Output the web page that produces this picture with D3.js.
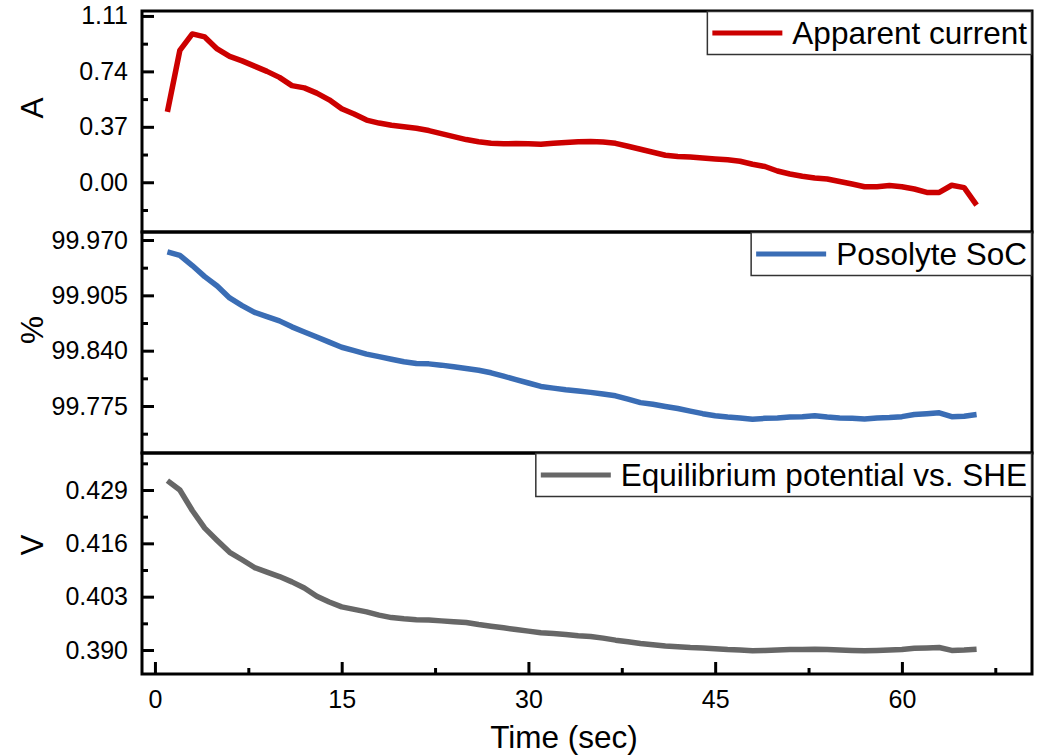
<!DOCTYPE html>
<html>
<head>
<meta charset="utf-8">
<script src="https://cdn.jsdelivr.net/npm/d3@7"></script>
<style>
  body { margin: 0; background: #fff; }
  text { font-family: Arial, "Liberation Sans", sans-serif; fill: #000; }
</style>
</head>
<body>
<script>
/* ------------------------------- Data ------------------------------- */
const timeSec = [1,2,3,4,5,6,7,8,9,10,11,12,13,14,15,16,17,18,19,20,21,22,
  23,24,25,26,27,28,29,30,31,32,33,34,35,36,37,38,39,40,41,42,43,44,45,46,
  47,48,49,50,51,52,53,54,55,56,57,58,59,60,61,62,63,64,65,66];

const apparentCurrent = [0.47,0.88,0.99,0.97,0.89,0.84,0.81,0.775,0.74,0.70,
  0.645,0.63,0.595,0.55,0.49,0.455,0.415,0.395,0.38,0.37,0.36,0.345,0.325,
  0.305,0.285,0.27,0.26,0.257,0.258,0.257,0.253,0.26,0.266,0.27,0.272,0.268,
  0.26,0.24,0.22,0.20,0.18,0.172,0.168,0.162,0.156,0.15,0.14,0.12,0.105,
  0.075,0.055,0.04,0.028,0.022,0.005,-0.012,-0.03,-0.03,-0.022,-0.03,-0.045,
  -0.068,-0.068,-0.02,-0.036,-0.152];

const posolyteSoc = [99.956,99.952,99.940,99.927,99.916,99.902,99.893,99.885,
  99.880,99.875,99.868,99.862,99.856,99.850,99.844,99.840,99.836,99.833,
  99.830,99.827,99.825,99.8245,99.823,99.821,99.819,99.817,99.814,99.810,
  99.806,99.802,99.798,99.796,99.794,99.7925,99.791,99.789,99.787,99.783,
  99.779,99.777,99.7745,99.772,99.769,99.766,99.7635,99.762,99.761,99.7595,
  99.7605,99.761,99.762,99.7625,99.7635,99.762,99.761,99.7605,99.7597,99.761,
  99.7615,99.7625,99.765,99.766,99.767,99.7625,99.763,99.765];

const eqPotential = [0.4313,0.4290,0.4240,0.4197,0.4167,0.4138,0.4120,0.4101,
  0.4090,0.4079,0.4066,0.4051,0.4031,0.4017,0.4005,0.3999,0.3993,0.3985,
  0.3979,0.3976,0.3974,0.3973,0.3971,0.3969,0.3967,0.3962,0.3958,0.3954,
  0.3950,0.3946,0.3942,0.3940,0.3938,0.3935,0.3933,0.3929,0.3924,0.3920,
  0.3916,0.3913,0.3910,0.3908,0.3906,0.3905,0.3903,0.3901,0.3900,0.3898,
  0.3899,0.3900,0.3901,0.3901,0.3902,0.3901,0.3900,0.3899,0.3898,0.3899,
  0.3900,0.3901,0.3904,0.3905,0.3906,0.3899,0.3900,0.3902];

const xMajorTicks = [0, 15, 30, 45, 60];
const xMinorTicks = [7.5, 22.5, 37.5, 52.5, 67.5];

/* ------------------------------ Layout ------------------------------ */
const vWidth = 1046, vHeight = 755;
const plotLeft = 142, plotRight = 1032, plotTop = 11, plotBottom = 674;
const panelH = (plotBottom - plotTop) / 3;
const tickFont = '25px', bigFont = '31.5px';

const panels = [
  { values: apparentCurrent, label: 'A', name: 'Apparent current', color: '#cc0000',
    domain: [-0.332, 1.143], major: [0, 0.37, 0.74, 1.11], minor: [-0.185, 0.185, 0.555, 0.925],
    fmt: d3.format('.2f'), labelY: 97 },
  { values: posolyteSoc, label: '%', name: 'Posolyte SoC', color: '#3a6db5',
    domain: [99.7198, 99.9794], major: [99.775, 99.840, 99.905, 99.970],
    minor: [99.7425, 99.8075, 99.8725, 99.9375], fmt: d3.format('.3f'), labelY: 98 },
  { values: eqPotential, label: 'V', name: 'Equilibrium potential vs. SHE', color: '#676767',
    domain: [0.38415, 0.43802], major: [0.390, 0.403, 0.416, 0.429],
    minor: [0.3965, 0.4095, 0.4225, 0.4355], fmt: d3.format('.3f'), labelY: 92 }
];

const svg = d3.select('body').append('svg').attr('width', vWidth).attr('height', vHeight);
const x = d3.scaleLinear().domain([-1.04, 70.45]).range([plotLeft, plotRight]);

panels.forEach((p, i) => {
  const y0 = plotTop + i * panelH, y1 = y0 + panelH;
  const y = d3.scaleLinear().domain(p.domain).range([y1, y0]);
  const g = svg.append('g');

  // line
  const line = d3.line().x((d, k) => x(timeSec[k])).y(d => y(d));
  g.append('path').datum(p.values)
    .attr('d', line)
    .attr('fill', 'none')
    .attr('stroke', p.color)
    .attr('stroke-width', 5.5)
    .attr('stroke-linejoin', 'round');

  // y axis (ticks inward)
  const yAxis = g.append('g').attr('transform', `translate(${plotLeft},0)`)
    .call(d3.axisLeft(y).tickValues(p.major).tickSize(-12).tickPadding(14).tickFormat(p.fmt));
  yAxis.select('.domain').remove();
  yAxis.selectAll('line').attr('stroke', '#000').attr('stroke-width', 3);
  yAxis.selectAll('text').style('font-size', tickFont).attr('fill', '#000');

  const yMinor = g.append('g').attr('transform', `translate(${plotLeft},0)`)
    .call(d3.axisLeft(y).tickValues(p.minor).tickSize(-6).tickFormat(''));
  yMinor.select('.domain').remove();
  yMinor.selectAll('line').attr('stroke', '#000').attr('stroke-width', 3);

  // y label
  g.append('text')
    .attr('transform', `translate(43,${y0 + p.labelY}) rotate(-90)`)
    .attr('text-anchor', 'middle')
    .style('font-size', bigFont)
    .text(p.label);

  // frame
  g.append('rect')
    .attr('x', plotLeft).attr('y', y0)
    .attr('width', plotRight - plotLeft).attr('height', panelH)
    .attr('fill', 'none').attr('stroke', '#000').attr('stroke-width', 3);

  // legend
  const lg = g.append('g');
  const box = lg.append('rect').attr('fill', '#fff').attr('stroke', '#333').attr('stroke-width', 1.5);
  const lt = lg.append('text').style('font-size', bigFont).text(p.name);
  const tw = lt.node().getComputedTextLength();
  const bw = tw + 90, bh = 43;
  const bx = plotRight - bw;
  box.attr('x', bx).attr('y', y0 + 0.5).attr('width', bw - 0.5).attr('height', bh);
  lg.append('line')
    .attr('x1', bx + 5).attr('x2', bx + 75)
    .attr('y1', y0 + 22).attr('y2', y0 + 22)
    .attr('stroke', p.color).attr('stroke-width', 5);
  lt.attr('x', bx + 85).attr('y', y0 + 33);
});

/* ------------------------------ X axis ------------------------------ */
const xAxis = svg.append('g').attr('transform', `translate(0,${plotBottom})`)
  .call(d3.axisBottom(x).tickValues(xMajorTicks).tickSize(-12).tickPadding(16).tickFormat(d3.format('d')));
xAxis.select('.domain').remove();
xAxis.selectAll('line').attr('stroke', '#000').attr('stroke-width', 3);
xAxis.selectAll('text').style('font-size', tickFont).attr('fill', '#000');

const xMinor = svg.append('g').attr('transform', `translate(0,${plotBottom})`)
  .call(d3.axisBottom(x).tickValues(xMinorTicks).tickSize(-6).tickFormat(''));
xMinor.select('.domain').remove();
xMinor.selectAll('line').attr('stroke', '#000').attr('stroke-width', 3);

svg.append('text')
  .attr('x', 564).attr('y', 748)
  .attr('text-anchor', 'middle')
  .style('font-size', bigFont)
  .text('Time (sec)');
</script>
</body>
</html>
